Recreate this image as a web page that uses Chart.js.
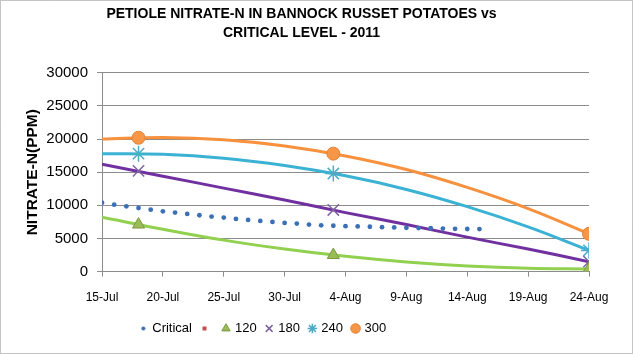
<!DOCTYPE html>
<html>
<head>
<meta charset="utf-8">
<script src="https://cdn.jsdelivr.net/npm/chart.js@4.4.1/dist/chart.umd.min.js"></script>
<style>
  html, body { margin: 0; padding: 0; background: #fff; }
  #wrap { width: 633px; height: 354px; position: relative; }
</style>
</head>
<body>
<div id="wrap"><canvas id="nitrateChart" width="633" height="354"></canvas></div>
<script>
// --- DATA (x = days after 15-Jul) ---
const xTickLabels = ['15-Jul', '20-Jul', '25-Jul', '30-Jul', '4-Aug', '9-Aug', '14-Aug', '19-Aug', '24-Aug'];
const sampleDays = [3, 19, 40];            // 18-Jul, 3-Aug, 24-Aug
const n120 = [7100, 2500, 400];
const n180 = [15200, 9300, 1500];
const n240 = [17800, 14800, 3200];
const n300 = [20200, 17800, 5700];

// trend lines read at every tick date
const trendDays = [0, 5, 10, 15, 20, 25, 30, 35, 40];
const trend120 = [8200, 6400, 4750, 3400, 2300, 1450, 850, 500, 400];
const trend180 = [16200, 14400, 12600, 10800, 8900, 7100, 5200, 3400, 1500];
const trend240 = [17800, 17700, 17100, 16000, 14450, 12400, 9800, 6750, 3200];
const trend300 = [20000, 20250, 19900, 18950, 17450, 15400, 12700, 9500, 5700];

// critical level, one value per day from 15-Jul
const criticalValues = [10400, 10100, 9850, 9600, 9350, 9100, 8900, 8700, 8500, 8300,
                        8150, 7950, 7800, 7650, 7500, 7350, 7250, 7100, 6980, 6920,
                        6850, 6820, 6770, 6700, 6670, 6600, 6570, 6540, 6500, 6450,
                        6430, 6420];

function pts(days, vals) {
    return vals.map((v, i) => ({ x: days[i], y: v }));
}

// tiny legend glyphs (Excel draws these small)
function tinyGlyph(color, shape) {
    const c = document.createElement('canvas');
    c.width = 5; c.height = 5;
    const g = c.getContext('2d');
    g.fillStyle = color;
    if (shape === 'dot') {
        g.beginPath(); g.arc(2.5, 2.5, 2, 0, Math.PI * 2); g.fill();
    } else {
        g.fillRect(0.5, 0.5, 4, 4);
    }
    return c;
}

const frame = {
    id: 'frame',
    afterLayout(chart) {
        // Excel puts the legend left of centre and a bit closer to the axis
        const lg = chart.legend;
        lg.left -= 38; lg.right -= 38;
        lg.top -= 7; lg.bottom -= 7;
    },
    afterDraw(chart) {
        const ctx = chart.ctx;
        ctx.save();
        ctx.strokeStyle = '#8a8a8a';
        ctx.setLineDash([1, 1]);
        ctx.lineWidth = 1;
        ctx.strokeRect(0.5, 0.5, chart.width - 1, chart.height - 1);
        ctx.restore();
    }
};

const trendLine = (label, data, color) => ({
    label: label, data: data, showLine: true, borderColor: color, borderWidth: 3,
    pointRadius: 0, tension: 0.4, fill: false, order: 2, isTrend: true
});

const ctx = document.getElementById('nitrateChart');
new Chart(ctx, {
    type: 'scatter',
    data: {
        datasets: [
            { label: 'Critical', data: pts(criticalValues.map((v, i) => i), criticalValues),
              pointStyle: 'circle', pointRadius: 2.4, backgroundColor: '#3b6fb6', borderColor: '#3b6fb6',
              borderWidth: 0, order: 1 },
            { label: '', data: [], pointStyle: tinyGlyph('#c0504d', 'rect'),
              backgroundColor: '#c0504d', borderColor: '#c0504d' },
            { label: '120', data: pts(sampleDays, n120), pointStyle: 'triangle', pointRadius: 7,
              backgroundColor: '#9bbb59', borderColor: '#7a9a3e', borderWidth: 1, order: 0 },
            { label: '180', data: pts(sampleDays, n180), pointStyle: 'crossRot', pointRadius: 8,
              backgroundColor: '#8064a2', borderColor: '#8064a2', borderWidth: 1.5, order: 0 },
            { label: '240', data: pts(sampleDays, n240), pointStyle: 'star', pointRadius: 8,
              backgroundColor: '#4bacc6', borderColor: '#4bacc6', borderWidth: 1.5, order: 0 },
            { label: '300', data: pts(sampleDays, n300), pointStyle: 'circle', pointRadius: 6.5,
              backgroundColor: '#f79646', borderColor: '#e4823a', borderWidth: 1, order: 0 },
            trendLine('t120', pts(trendDays, trend120), '#92d050'),
            trendLine('t180', pts(trendDays, trend180), '#7030a0'),
            trendLine('t240', pts(trendDays, trend240), '#3bb2d4'),
            trendLine('t300', pts(trendDays, trend300), '#f7913e')
        ]
    },
    options: {
        responsive: false,
        animation: false,
        layout: { padding: { left: 14, right: 44, top: 4, bottom: 2 } },
        plugins: {
            tooltip: { enabled: false },
            title: {
                display: true,
                text: ['PETIOLE NITRATE-N IN BANNOCK RUSSET POTATOES vs', 'CRITICAL LEVEL - 2011'],
                font: { family: 'Liberation Sans, Arial, sans-serif', size: 14, weight: 'bold', lineHeight: 1.35 },
                color: '#000',
                padding: { top: 1, bottom: 30 }
            },
            legend: {
                position: 'bottom',
                labels: {
                    usePointStyle: true,
                    boxWidth: 5,
                    boxHeight: 6.8,
                    padding: 10,
                    color: '#000',
                    font: { family: 'Liberation Sans, Arial, sans-serif', size: 13 },
                    sort: (a, b) => a.datasetIndex - b.datasetIndex,
                    generateLabels(chart) {
                        const items = Chart.defaults.plugins.legend.labels.generateLabels(chart);
                        return items.filter(it => !chart.data.datasets[it.datasetIndex].isTrend)
                            .map(it => {
                                if (it.datasetIndex === 0) it.pointStyle = tinyGlyph('#3b6fb6', 'dot');
                                return it;
                            });
                    }
                }
            }
        },
        scales: {
            x: {
                type: 'linear',
                min: 0,
                max: 40,
                ticks: {
                    stepSize: 5,
                    autoSkip: false,
                    maxRotation: 0,
                    color: '#000',
                    padding: 14,
                    font: { family: 'Liberation Sans, Arial, sans-serif', size: 12 },
                    callback: v => xTickLabels[v / 5]
                },
                grid: { drawOnChartArea: false, drawTicks: true, tickLength: 5, color: '#8c8c8c' },
                border: { color: '#8c8c8c' }
            },
            y: {
                min: 0,
                max: 30000,
                ticks: {
                    stepSize: 5000,
                    color: '#000',
                    padding: 9,
                    font: { family: 'Liberation Sans, Arial, sans-serif', size: 15 },
                    callback: v => String(v)
                },
                grid: { color: '#8c8c8c', tickLength: 5 },
                border: { color: '#8c8c8c' },
                title: {
                    display: true,
                    text: 'NITRATE-N(PPM)',
                    color: '#000',
                    font: { family: 'Liberation Sans, Arial, sans-serif', size: 15.5, weight: 'bold' },
                    padding: { top: 9, bottom: 0 }
                },
                afterFit(scale) { scale.width = 88; }
            }
        }
    },
    plugins: [frame]
});
</script>
</body>
</html>
